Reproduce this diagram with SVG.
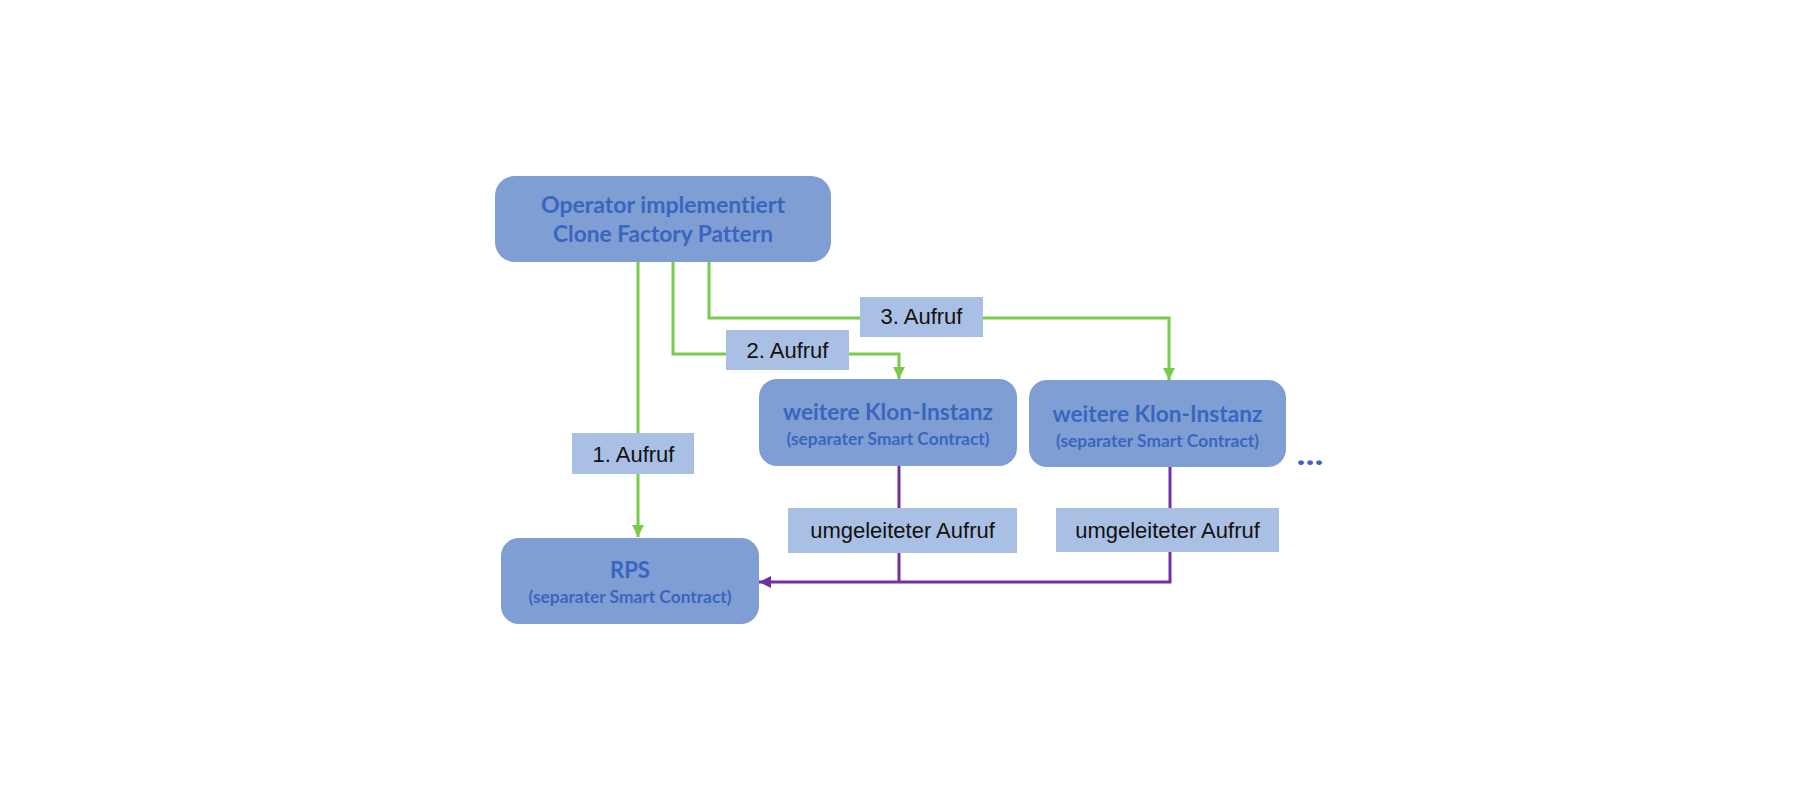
<svg xmlns="http://www.w3.org/2000/svg" width="1796" height="808" viewBox="0 0 1796 808">
<style>
.node{fill:#7F9ED4;}
.lbl{fill:#A9BFE3;}
.t{font-family:Lato,"Open Sans","Liberation Sans",sans-serif;font-weight:bold;fill:#3A66BD;text-anchor:middle;font-variant-ligatures:none;font-feature-settings:"liga" 0;}
.big{font-size:23px;}
.sub{font-size:16.5px;}
.lt{font-family:"Liberation Sans",Arial,sans-serif;font-size:22px;fill:#111;text-anchor:middle;}
.g{fill:none;stroke:#79CB4B;stroke-width:3;}
.p{fill:none;stroke:#7030A0;stroke-width:3;}
</style>
<defs>
<marker id="ag" markerUnits="userSpaceOnUse" markerWidth="14" markerHeight="14" viewBox="0 0 14 14" refX="12" refY="7" orient="auto">
<path d="M0,1 L12,7 L0,13 Z" fill="#79CB4B"/>
</marker>
<marker id="ap" markerUnits="userSpaceOnUse" markerWidth="14" markerHeight="14" viewBox="0 0 14 14" refX="12" refY="7" orient="auto">
<path d="M0,1 L12,7 L0,13 Z" fill="#7030A0"/>
</marker>
</defs>
<rect width="1796" height="808" fill="#fff"/>
<g id="connectors">
<path class="g" d="M638,262 V537" marker-end="url(#ag)"/>
<path class="g" d="M673,262 V354 H899 V379" marker-end="url(#ag)"/>
<path class="g" d="M709,262 V318 H1169 V380" marker-end="url(#ag)"/>
<path class="p" d="M899,466 V582"/>
<path class="p" d="M1170,467 V582 H759" marker-end="url(#ap)"/>
<g id="label1"><rect class="lbl" x="572" y="433" width="122" height="41"/><text class="lt" x="633.5" y="462">1. Aufruf</text></g>
<g id="label2"><rect class="lbl" x="726" y="330" width="123" height="40"/><text class="lt" x="787.5" y="358">2. Aufruf</text></g>
<g id="label3"><rect class="lbl" x="860" y="297" width="123" height="40"/><text class="lt" x="921.5" y="324">3. Aufruf</text></g>
<g id="label4"><rect class="lbl" x="788" y="508" width="229" height="45"/><text class="lt" x="902.5" y="538">umgeleiteter Aufruf</text></g>
<g id="label5"><rect class="lbl" x="1056" y="508" width="223" height="44"/><text class="lt" x="1167.5" y="538">umgeleiteter Aufruf</text></g>
</g>
<g id="operator">
<rect class="node" x="495" y="176" width="336" height="86" rx="20"/>
<text class="t big" x="663" y="213" textLength="244" lengthAdjust="spacingAndGlyphs">Operator implementiert</text>
<text class="t big" x="663" y="242" textLength="220" lengthAdjust="spacingAndGlyphs">Clone Factory Pattern</text>
</g>
<g id="klon1">
<rect class="node" x="759" y="379" width="258" height="87" rx="18"/>
<text class="t big" x="888" y="420" textLength="210" lengthAdjust="spacingAndGlyphs">weitere Klon-Instanz</text>
<text class="t sub" x="888" y="445" textLength="203" lengthAdjust="spacingAndGlyphs">(separater Smart Contract)</text>
</g>
<g id="klon2">
<rect class="node" x="1029" y="380" width="257" height="87" rx="18"/>
<text class="t big" x="1157.5" y="422" textLength="210" lengthAdjust="spacingAndGlyphs">weitere Klon-Instanz</text>
<text class="t sub" x="1157.5" y="447" textLength="203" lengthAdjust="spacingAndGlyphs">(separater Smart Contract)</text>
</g>
<g id="rps">
<rect class="node" x="501" y="538" width="258" height="86" rx="18"/>
<text class="t big" x="630" y="578" textLength="40" lengthAdjust="spacingAndGlyphs">RPS</text>
<text class="t sub" x="630" y="603" textLength="203" lengthAdjust="spacingAndGlyphs">(separater Smart Contract)</text>
</g>
<g id="more">
<text class="t" x="1310" y="465" font-size="30" textLength="27" lengthAdjust="spacingAndGlyphs">...</text>
</g>
</svg>
